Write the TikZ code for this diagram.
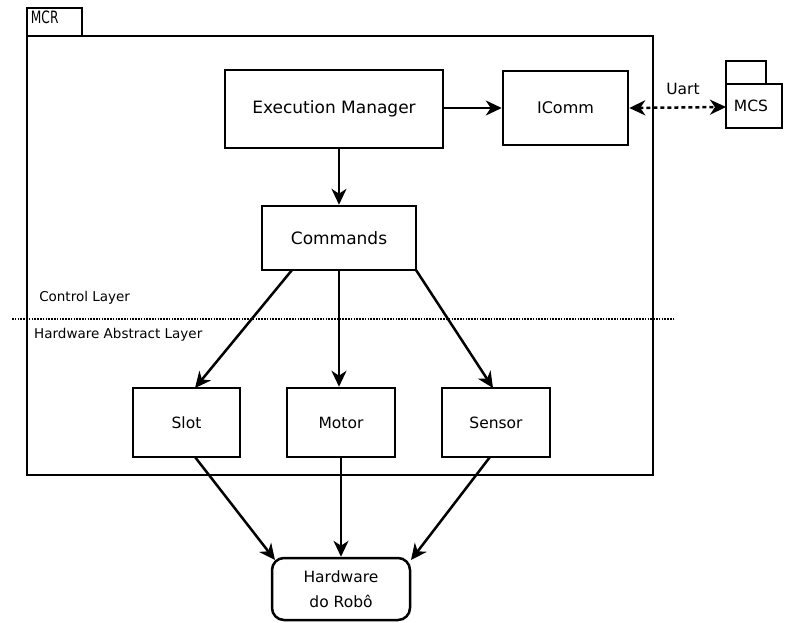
\documentclass[tikz,border=0pt]{standalone}
\usepackage{fontspec}
\setmainfont{DejaVu Sans}
\usetikzlibrary{arrows.meta}
\begin{document}
\begin{tikzpicture}[x=1pt,y=-1pt,
  line width=2.5pt,
  every node/.style={font=\fontsize{15.5}{18}\selectfont},
  block/.style={draw, rectangle, inner sep=0pt},
  tip/.tip={Stealth[length=16pt,width=15pt,inset=5pt]},
  arr/.style={-tip},
  lbl/.style={inner sep=0pt, font=\fontsize{13.5}{16}\selectfont}]
\useasboundingbox (0,0) rectangle (785,623);
\fill[white] (0,0) rectangle (785,623);

% MCR package
\draw (27,36) -- (27,8) -- (82,8) -- (82,36);
\draw (27,36) rectangle (653,475);
\node[inner sep=0pt, anchor=north west, xscale=0.72, font=\fontsize{17}{19}\selectfont] (mcr) at (30,10) {MCR};

% MCS package
\draw (726,84) -- (726,61) -- (766,61) -- (766,84);
\draw (726,84) rectangle (782,128);
\node[inner sep=0pt] (mcs) at (751,106) {MCS};
\coordinate (mcsin) at (726,107);

% components
\node[block, minimum width=218pt, minimum height=78pt, font=\fontsize{17}{20}\selectfont] (exec) at (334,109) {Execution Manager};
\node[block, minimum width=125pt, minimum height=74pt, font=\fontsize{16}{19}\selectfont] (icomm) at (565.5,108) {IComm};
\node[block, minimum width=154pt, minimum height=64pt, font=\fontsize{17}{20}\selectfont] (cmd) at (339,238) {Commands};
\node[block, minimum width=107pt, minimum height=69pt] (slot) at (186.5,422.5) {Slot};
\node[block, minimum width=108pt, minimum height=69pt] (motor) at (341,422.5) {Motor};
\node[block, minimum width=108pt, minimum height=69pt] (sensor) at (496,422.5) {Sensor};
\node[block, rounded corners=12pt, minimum width=138pt, minimum height=62pt, align=center,
      font=\fontsize{15.5}{25}\selectfont] (hw) at (341,589) {Hardware\\do Robô};

% layer boundary
\draw[line width=2pt, dash pattern=on 1.5pt off 1.3pt] (12,319) -- (673,319);
\node[lbl, anchor=west] (ctl) at (38,298) {Control Layer};
\node[lbl, anchor=west] (hal) at (33,335) {Hardware Abstract Layer};

% connectors
\draw[arr] (exec.east |- icomm.west) -- (icomm.west);
\draw[arr] (exec.south -| cmd.north) -- (cmd.north);
\draw[tip-tip, dash pattern=on 4pt off 3pt] (icomm.east) -- (mcsin);
\node[inner sep=0pt] (uart) at (683,89) {Uart};

\draw[arr] (292,270) -- (195,388);
\draw[arr] (cmd.south) -- (motor.north -| cmd.south);
\draw[arr] (416,270) -- (493,388);

\draw[arr] (195,457) -- (275,560);
\draw[arr] (motor.south) -- (hw.north);
\draw[arr] (490,457) -- (411,560);
\end{tikzpicture}
\end{document}
